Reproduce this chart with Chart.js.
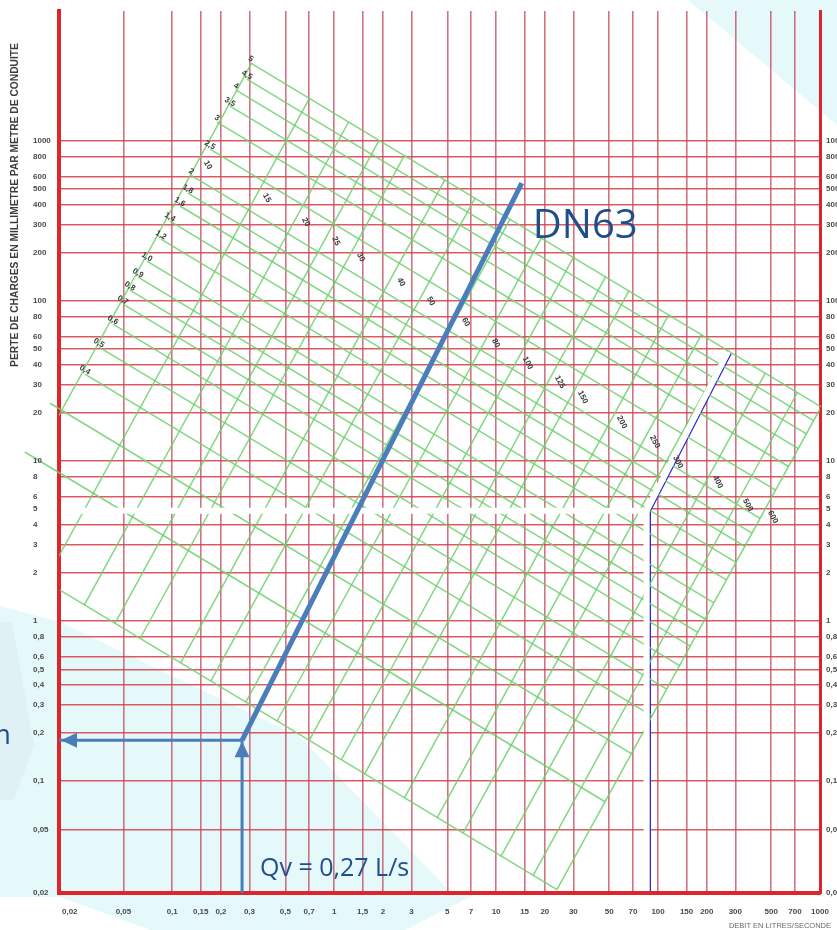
<!DOCTYPE html>
<html>
<head>
<meta charset="utf-8">
<title>Abaque des pertes de charge</title>
<script src="https://cdn.jsdelivr.net/npm/chart.js@4.4.1/dist/chart.umd.min.js"></script>
<style>
  html, body { margin: 0; padding: 0; background: #ffffff; }
  #wrap { width: 837px; height: 930px; position: relative; }
</style>
</head>
<body>
<div id="wrap"><canvas id="abaque" width="837" height="930"></canvas></div>
<script>
// ---- Axes : débit (L/s) en abscisse, perte de charge (mm/m) en ordonnée ----
const qGrid   = [0.02, 0.05, 0.1, 0.15, 0.2, 0.3, 0.5, 0.7, 1, 1.5, 2, 3, 5, 7, 10, 15, 20, 30, 50, 70, 100, 150, 200, 300, 500, 700, 1000];
const qLabels = ['0,02', '0,05', '0,1', '0,15', '0,2', '0,3', '0,5', '0,7', '1', '1,5', '2', '3', '5', '7', '10', '15', '20', '30', '50', '70', '100', '150', '200', '300', '500', '700', '1000'];
const jGrid   = [0.02, 0.05, 0.1, 0.2, 0.3, 0.4, 0.5, 0.6, 0.8, 1, 2, 3, 4, 5, 6, 8, 10, 20, 30, 40, 50, 60, 80, 100, 200, 300, 400, 500, 600, 800, 1000];
const jLabels = ['0,02', '0,05', '0,1', '0,2', '0,3', '0,4', '0,5', '0,6', '0,8', '1', '2', '3', '4', '5', '6', '8', '10', '20', '30', '40', '50', '60', '80', '100', '200', '300', '400', '500', '600', '800', '1000'];

// ---- Droites de diamètre (mm) : point repère (débit, perte) où s'inscrit la cote ----
const diameters = ['10', '15', '20', '25', '30', '40', '50', '60', '80', '100', '125', '150', '200', '250', '300', '400', '500', '600'];
const diamQ = [0.14, 0.324, 0.564, 0.865, 1.23, 2.18, 3.33, 5.48, 8.39, 13.2, 20.9, 28.9, 50.4, 80.5, 112, 197, 302, 431];
const diamJ = [708, 441, 312, 237, 188, 131.5, 100, 74, 54.6, 41, 31.2, 25.1, 17.5, 13.2, 9.86, 7.4, 5.31, 4.47];

// ---- Droites de vitesse (m/s) : origine de chaque droite (débit, perte) ----
const velocities = ['0,1', '0,2', '0,3', '0,4', '0,5', '0,6', '0,7', '0,8', '0,9', '1,0', '1,2', '1,4', '1,6', '1,8', '2', '2,5', '3', '3,5', '4', '4,5', '5'];
const velShown   = [false, false, false, true, true, true, true, true, true, true, true, true, true, true, true, true, true, true, true, true, true];
const velQ = [0.0203, 0.0123, 0.0176, 0.0289, 0.0353, 0.0431, 0.0497, 0.0548, 0.0615, 0.0698, 0.0853, 0.0968, 0.1117, 0.125, 0.131, 0.171, 0.189, 0.2275, 0.248, 0.289, 0.306];
const velJ = [1.56, 11.4, 23.0, 35.0, 51.6, 71.8, 95.7, 117, 141, 178, 244, 316, 393, 473, 610, 891, 1315, 1656, 2084, 2441, 3072];

// pentes des deux familles de droites dans le plan log-log
const diamSlope = 1.85;
const velSlope = -0.61;

// ---- Lecture DN63 ----
const qvRead = 0.27;           // L/s
const jRead = 0.18;            // mm/m
const dn63Q = [0.27, 14.4];
const dn63J = [0.18, 546];

// ---- Tracé blanc (ancienne lecture recouverte) ----
const whiteRouteQ = [0.02, 85, 270];
const whiteRouteJ = [4.9, 4.9, 48];
const whiteDropQ = [85, 85];
const whiteDropJ = [4.9, 0.02];

// ----------------------------------------------------------------------
const lg = Math.log10;
const cOf = i => lg(diamJ[i]) - diamSlope * lg(diamQ[i]);
const bOf = k => lg(velJ[k]) - velSlope * lg(velQ[k]);
function meet(c, b) {
  const X = (b - c) / (diamSlope - velSlope);
  return { x: Math.pow(10, X), y: Math.pow(10, diamSlope * X + c) };
}
const bMin = bOf(0);
const bMax = bOf(velQ.length - 1);
const cMax = cOf(diamQ.length - 1);

const GREEN = 'rgba(108,208,108,0.85)';
const BLUE = '#4a7ebb';
const TEXT_BLUE = '#1f4e8c';

const datasets = [];
diameters.forEach((d, i) => {
  const c = cOf(i);
  datasets.push({
    label: 'D' + d, data: [meet(c, bMin), meet(c, bMax)], showLine: true,
    borderColor: GREEN, borderWidth: 1.5, pointRadius: 0, order: 10
  });
});
velocities.forEach((v, k) => {
  const b = bOf(k);
  datasets.push({
    label: 'V' + v, data: [{ x: velQ[k], y: velJ[k] }, meet(cMax, b)], showLine: true,
    borderColor: GREEN, borderWidth: 1.5, pointRadius: 0, order: 10,
    clip: { left: 40, top: 6, right: 4, bottom: 4 }
  });
});
datasets.push({
  label: 'route', data: whiteRouteQ.map((q, i) => ({ x: q, y: whiteRouteJ[i] })), showLine: true,
  borderColor: '#ffffff', borderWidth: 6, pointRadius: 0, order: 5,
  clip: { left: -2, top: 0, right: 0, bottom: -2 }
});
datasets.push({
  label: 'drop', data: whiteDropQ.map((q, i) => ({ x: q, y: whiteDropJ[i] })), showLine: true,
  borderColor: '#ffffff', borderWidth: 6, pointRadius: 0, order: 5,
  clip: { left: -2, top: 0, right: 0, bottom: -2 }
});
datasets.push({
  label: 'DN63', data: dn63Q.map((q, i) => ({ x: q, y: dn63J[i] })), showLine: true,
  borderColor: BLUE, borderWidth: 5, pointRadius: 0, order: 1
});
datasets.push({
  label: 'arrowQ', data: [{ x: qvRead, y: 0.02 }, { x: qvRead, y: jRead }], showLine: true,
  borderColor: BLUE, borderWidth: 3, pointRadius: 0, order: 1
});
datasets.push({
  label: 'arrowJ', data: [{ x: qvRead, y: jRead }, { x: 0.02, y: jRead }], showLine: true,
  borderColor: BLUE, borderWidth: 3, pointRadius: 0, order: 1
});

function poly(ctx, pts) {
  ctx.beginPath();
  pts.forEach((p, i) => (i ? ctx.lineTo(p[0], p[1]) : ctx.moveTo(p[0], p[1])));
  ctx.closePath();
  ctx.fill();
}

// fond de page : papier blanc et aplats bleu clair
const paper = {
  id: 'paper',
  beforeDraw(chart) {
    const ctx = chart.ctx;
    ctx.save();
    ctx.fillStyle = '#ffffff';
    ctx.fillRect(0, 0, chart.width, chart.height);
    ctx.fillStyle = '#e5f9fb';
    poly(ctx, [[0, 606], [60, 622], [300, 737], [452, 893], [478, 893], [405, 930], [150, 930], [60, 897], [0, 897]]);
    poly(ctx, [[688, 0], [837, 0], [837, 125]]);
    ctx.fillStyle = 'rgba(205,212,218,0.22)';
    poly(ctx, [[0, 622], [12, 622], [34, 745], [14, 800], [0, 800]]);
    ctx.restore();
  }
};

// liseré bleu le long du tracé blanc
const trace = {
  id: 'trace',
  beforeDatasetsDraw(chart) {
    const ctx = chart.ctx, xs = chart.scales.x, ys = chart.scales.y;
    const p1 = { x: xs.getPixelForValue(whiteRouteQ[1]), y: ys.getPixelForValue(whiteRouteJ[1]) };
    const p2 = { x: xs.getPixelForValue(whiteRouteQ[2]), y: ys.getPixelForValue(whiteRouteJ[2]) };
    const p3 = { x: xs.getPixelForValue(whiteDropQ[1]), y: ys.getPixelForValue(whiteDropJ[1]) };
    ctx.save();
    ctx.strokeStyle = '#2c2cd2';
    ctx.lineWidth = 1.8;
    ctx.beginPath();
    ctx.moveTo(p1.x + 3.5, p1.y);
    ctx.lineTo(p3.x + 3.5, p3.y - 2);
    ctx.moveTo(p1.x + 3, p1.y + 1.5);
    ctx.lineTo(p2.x + 3, p2.y + 1.5);
    ctx.stroke();
    ctx.restore();
  }
};

function arrowHead(ctx, tip, from, len, half) {
  const a = Math.atan2(tip.y - from.y, tip.x - from.x);
  const bx = tip.x - len * Math.cos(a), by = tip.y - len * Math.sin(a);
  ctx.beginPath();
  ctx.moveTo(tip.x, tip.y);
  ctx.lineTo(bx + half * Math.sin(a), by - half * Math.cos(a));
  ctx.lineTo(bx - half * Math.sin(a), by + half * Math.cos(a));
  ctx.closePath();
  ctx.fill();
}

function rotText(ctx, txt, x, y, deg) {
  ctx.save();
  ctx.translate(x, y);
  ctx.rotate(deg * Math.PI / 180);
  ctx.fillText(txt, 0, 0);
  ctx.restore();
}

// cotes, graduations, flèches et textes
const notes = {
  id: 'notes',
  afterDatasetsDraw(chart) {
    const ctx = chart.ctx, xs = chart.scales.x, ys = chart.scales.y;
    ctx.save();
    ctx.fillStyle = '#3a3a3a';
    ctx.font = 'bold 8px "Liberation Sans", Arial, sans-serif';
    ctx.textAlign = 'center';
    ctx.textBaseline = 'middle';
    velocities.forEach((v, k) => {
      if (!velShown[k]) return;
      rotText(ctx, v, xs.getPixelForValue(velQ[k]), ys.getPixelForValue(velJ[k]) - 4, 31);
    });
    diameters.forEach((d, i) => {
      rotText(ctx, d, xs.getPixelForValue(diamQ[i]) + 12, ys.getPixelForValue(diamJ[i]), 62);
    });

    // flèches de lecture
    const corner = { x: xs.getPixelForValue(qvRead), y: ys.getPixelForValue(jRead) };
    const base = { x: xs.getPixelForValue(qvRead), y: ys.getPixelForValue(0.02) };
    const left = { x: xs.getPixelForValue(0.02), y: ys.getPixelForValue(jRead) };
    ctx.fillStyle = BLUE;
    arrowHead(ctx, { x: corner.x, y: corner.y + 1 }, base, 16, 7.5);
    arrowHead(ctx, { x: left.x + 2, y: left.y }, corner, 16, 7.5);

    // textes
    ctx.fillStyle = TEXT_BLUE;
    ctx.textBaseline = 'alphabetic';
    ctx.textAlign = 'left';
    ctx.font = '40px "Open Sans", sans-serif';
    const end = { x: xs.getPixelForValue(dn63Q[1]), y: ys.getPixelForValue(dn63J[1]) };
    ctx.fillText('DN63', end.x + 11, end.y + 55);
    ctx.font = '25px "Open Sans", sans-serif';
    ctx.fillText('Qv = 0,27 L/s', corner.x + 18, 876);
    ctx.textAlign = 'right';
    ctx.font = '28px "Open Sans", sans-serif';
    ctx.fillText('J = 0,18 mm/m', 11, corner.y + 4);
    ctx.restore();
  },
  afterDraw(chart) {
    const ctx = chart.ctx, xs = chart.scales.x, ys = chart.scales.y;
    ctx.save();
    ctx.fillStyle = '#4a4a4a';
    ctx.font = 'bold 8px "Liberation Sans", Arial, sans-serif';
    ctx.textBaseline = 'middle';
    ctx.textAlign = 'left';
    jGrid.forEach((v, i) => {
      const py = ys.getPixelForValue(v);
      ctx.fillText(jLabels[i], 33, py);
      ctx.fillText(jLabels[i], 826, py);
    });
    qGrid.forEach((v, i) => {
      const px = xs.getPixelForValue(v);
      ctx.textAlign = i === 0 ? 'left' : 'center';
      ctx.fillText(qLabels[i], i === 0 ? px + 3 : px, 912);
    });
    ctx.font = '7.5px "Liberation Sans", Arial, sans-serif';
    ctx.fillStyle = '#6a6a6a';
    ctx.textAlign = 'right';
    ctx.fillText('DEBIT EN LITRES/SECONDE', 831, 926);

    // titre vertical de l'axe des pertes de charge
    const title = 'PERTE DE CHARGES EN MILLIMETRE PAR METRE DE CONDUITE';
    ctx.font = 'bold 9px "Liberation Sans", Arial, sans-serif';
    const w = ctx.measureText(title).width;
    const size = 9 * 324 / w;
    ctx.font = 'bold ' + size.toFixed(2) + 'px "Liberation Sans", Arial, sans-serif';
    ctx.fillStyle = '#3c3c3c';
    ctx.textAlign = 'center';
    rotText(ctx, title, 15, 205, -90);
    ctx.restore();
  }
};

const RED_AXIS = '#e0242b';
new Chart(document.getElementById('abaque'), {
  type: 'scatter',
  data: { datasets },
  options: {
    responsive: false,
    animation: false,
    devicePixelRatio: 1,
    layout: { padding: { left: 59, right: 17, top: 11, bottom: 37 } },
    plugins: { legend: { display: false }, tooltip: { enabled: false } },
    scales: {
      x: {
        type: 'logarithmic', position: 'bottom', min: 0.02, max: 1000,
        afterBuildTicks: s => { s.ticks = qGrid.map(v => ({ value: v })); },
        afterFit: s => { s.height = 0; },
        ticks: { display: false },
        grid: { color: 'rgba(196,80,100,0.8)', lineWidth: 1.6, drawTicks: false },
        border: { display: true, color: RED_AXIS, width: 4 }
      },
      y: {
        type: 'logarithmic', position: 'left', min: 0.02, max: 6500,
        afterBuildTicks: s => { s.ticks = jGrid.map(v => ({ value: v })); },
        afterFit: s => { s.width = 0; },
        ticks: { display: false },
        grid: { color: 'rgba(214,62,70,0.85)', lineWidth: 1.6, drawTicks: false },
        border: { display: true, color: RED_AXIS, width: 4 }
      },
      yR: {
        type: 'logarithmic', position: 'right', min: 0.02, max: 6500,
        afterFit: s => { s.width = 0; },
        ticks: { display: false },
        grid: { display: false, drawTicks: false },
        border: { display: true, color: RED_AXIS, width: 3 }
      }
    }
  },
  plugins: [paper, trace, notes]
});
</script>
</body>
</html>
